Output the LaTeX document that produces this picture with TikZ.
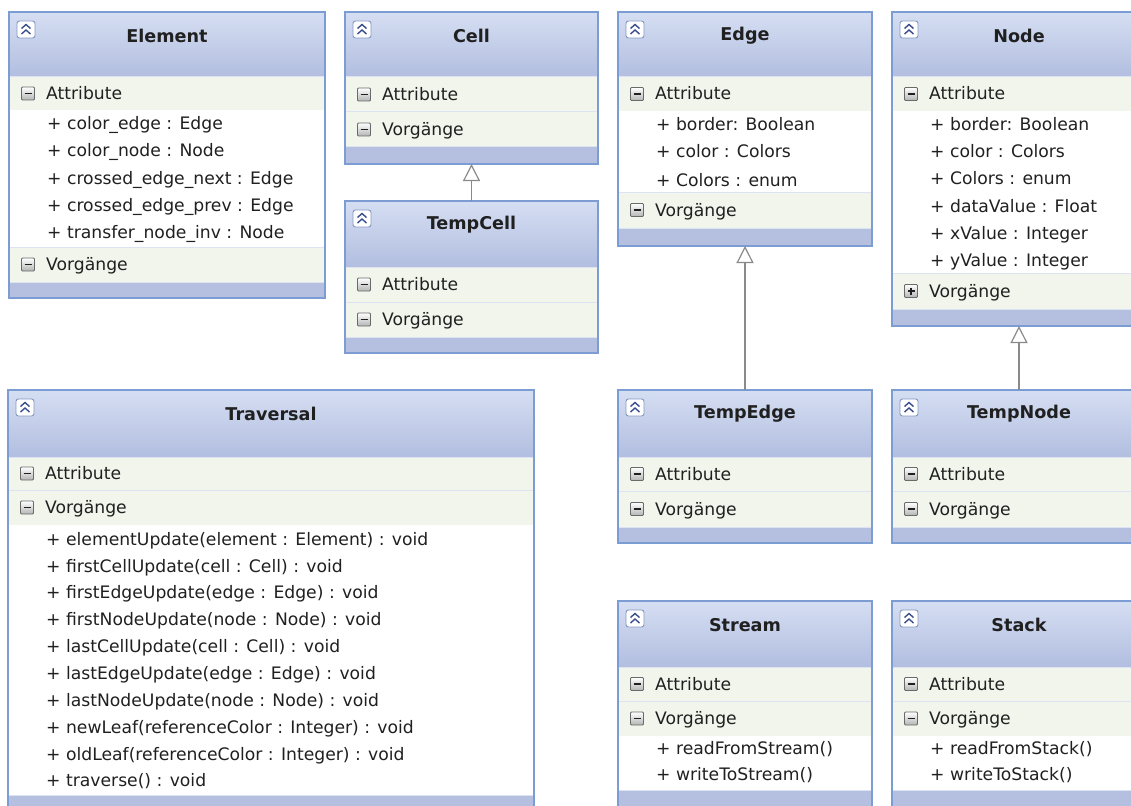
\documentclass[tikz,border=0pt]{standalone}
\usepackage{fontspec}
\setmainfont{DejaVu Sans}
\usetikzlibrary{arrows.meta}
\definecolor{bordc}{HTML}{7C9CD4}
\definecolor{hdtop}{HTML}{D5DEF2}
\definecolor{hdbot}{HTML}{B2BEE0}
\definecolor{bandc}{HTML}{F2F5EC}
\definecolor{sepc}{HTML}{DCE3F2}
\definecolor{footc}{HTML}{B5C0E0}
\definecolor{txt}{HTML}{202020}
\definecolor{arrc}{HTML}{8A8A8A}
\definecolor{icob}{HTML}{8497C2}
\definecolor{icoc}{HTML}{3B4F8E}
\definecolor{mbord}{HTML}{6A6A6A}
\definecolor{mgray}{HTML}{B4B4B4}
\definecolor{mline}{HTML}{202020}
\newcount\lblc
\newcommand\nextlbl{\global\advance\lblc by 1 }
\newcommand\chdr[6]{% x1 x2 ytop yhb title name
  \shade[top color=hdtop,bottom color=hdbot] (#1,#3) rectangle (#2,#4);
  \node[ttl] (#6-title) at ({(#1+#2)/2},{#3+24}) {#5};
  \draw[draw=icob,fill=white,rounded corners=2.5pt,line width=0.9pt] ({#1+8},{#3+9}) rectangle ({#1+26},{#3+26});
  \draw[icoc,line width=1.4pt] ({#1+12.5},{#3+16.5}) -- ({#1+17},{#3+12.5}) -- ({#1+21.5},{#3+16.5});
  \draw[icoc,line width=1.4pt] ({#1+12.5},{#3+22}) -- ({#1+17},{#3+18}) -- ({#1+21.5},{#3+22});
}
\newcommand\cbandbase[5]{% x1 x2 ytop ybot label
  \fill[bandc] (#1,#3) rectangle (#2,#4);
  \draw[sepc,line width=1pt] (#1,#3) -- (#2,#3);
  \draw[draw=mbord,top color=white,bottom color=mgray,line width=0.8pt,rounded corners=1pt] ({#1+12.5},{(#3+#4)/2-6.5}) rectangle ({#1+25.5},{(#3+#4)/2+6.5});
  \draw[mline,line width=1.5pt] ({#1+15.5},{(#3+#4)/2}) -- ({#1+22.5},{(#3+#4)/2});
  \nextlbl
  \node[lbl] (lbl\the\lblc) at ({#1+37},{(#3+#4)/2+6}) {#5};
}
\newcommand\cband[5]{\cbandbase{#1}{#2}{#3}{#4}{#5}}
\newcommand\cbandp[5]{\cbandbase{#1}{#2}{#3}{#4}{#5}%
  \draw[mline,line width=1.5pt] ({#1+19},{(#3+#4)/2-3.5}) -- ({#1+19},{(#3+#4)/2+3.5});}
\newcommand\itm[3]{\nextlbl\node[lbl] (lbl\the\lblc) at ({#1+38},{#2+6}) {#3};}
\newcommand\foot[4]{\fill[footc] (#1,#3) rectangle (#2,#4);\draw[sepc,line width=1pt] (#1,#3) -- (#2,#3);}
\begin{document}
\begin{tikzpicture}[x=1pt,y=-1pt,
  frame/.style={draw=bordc,line width=1.8pt,inner sep=0pt,outer sep=0pt,anchor=north west},
  ttl/.style={font=\fontsize{17.6}{20}\selectfont\bfseries,text=txt,inner sep=0pt},
  lbl/.style={font=\fontsize{17.2}{20}\selectfont,text=txt,inner sep=0pt,anchor=base west},
  gen/.style={draw=arrc,line width=1.2pt,-{Triangle[open,length=17pt,width=17pt,fill=white]}},
]
\useasboundingbox (0,0) rectangle (1131,805);
\clip (0,0) rectangle (1131,805);
% Element
\fill[white] (9,12) rectangle (325,298);
\chdr{9}{325}{12}{77}{Element}{element}
\cband{9}{325}{77}{110}{Attribute}
\itm{9}{124}{+ color\_edge : Edge}
\itm{9}{151}{+ color\_node : Node}
\itm{9}{178}{+ crossed\_edge\_next : Edge}
\itm{9}{205}{+ crossed\_edge\_prev : Edge}
\itm{9}{232}{+ transfer\_node\_inv : Node}
\cband{9}{325}{247}{282}{Vorgänge}
\foot{9}{325}{282}{298}
\node[frame,minimum width=316pt,minimum height=286pt] (element) at (9,12) {};
% Cell
\fill[white] (345,12) rectangle (598,164);
\chdr{345}{598}{12}{77}{Cell}{cell}
\cband{345}{598}{77}{112}{Attribute}
\cband{345}{598}{112}{147}{Vorgänge}
\foot{345}{598}{147}{164}
\node[frame,minimum width=253pt,minimum height=152pt] (cell) at (345,12) {};
% TempCell
\fill[white] (345,201) rectangle (598,353);
\chdr{345}{598}{201}{267}{TempCell}{tempcell}
\cband{345}{598}{267}{302}{Attribute}
\cband{345}{598}{302}{337}{Vorgänge}
\foot{345}{598}{337}{353}
\node[frame,minimum width=253pt,minimum height=152pt] (tempcell) at (345,201) {};
% Edge
\fill[white] (618,12) rectangle (872,246);
\chdr{618}{872}{12}{77}{Edge}{edge}
\cband{618}{872}{77}{111}{Attribute}
\itm{618}{125}{+ border: Boolean}
\itm{618}{152}{+ color : Colors}
\itm{618}{180}{+ Colors : enum}
\cband{618}{872}{192}{228}{Vorgänge}
\foot{618}{872}{228}{246}
\node[frame,minimum width=254pt,minimum height=234pt] (edge) at (618,12) {};
% Node
\fill[white] (892,12) rectangle (1146,326);
\chdr{892}{1146}{12}{77}{Node}{node}
\cband{892}{1146}{77}{111}{Attribute}
\itm{892}{125}{+ border: Boolean}
\itm{892}{152}{+ color : Colors}
\itm{892}{179}{+ Colors : enum}
\itm{892}{206}{+ dataValue : Float}
\itm{892}{233}{+ xValue : Integer}
\itm{892}{260}{+ yValue : Integer}
\cbandp{892}{1146}{273}{309}{Vorgänge}
\foot{892}{1146}{309}{326}
\node[frame,minimum width=254pt,minimum height=314pt] (node) at (892,12) {};
% TempEdge
\fill[white] (618,390) rectangle (872,543);
\chdr{618}{872}{390}{457}{TempEdge}{tempedge}
\cband{618}{872}{457}{491}{Attribute}
\cband{618}{872}{491}{527}{Vorgänge}
\foot{618}{872}{527}{543}
\node[frame,minimum width=254pt,minimum height=153pt] (tempedge) at (618,390) {};
% TempNode
\fill[white] (892,390) rectangle (1146,543);
\chdr{892}{1146}{390}{457}{TempNode}{tempnode}
\cband{892}{1146}{457}{491}{Attribute}
\cband{892}{1146}{491}{527}{Vorgänge}
\foot{892}{1146}{527}{543}
\node[frame,minimum width=254pt,minimum height=153pt] (tempnode) at (892,390) {};
% Stream
\fill[white] (618,601) rectangle (872,820);
\chdr{618}{872}{601}{667}{Stream}{stream}
\cband{618}{872}{667}{701}{Attribute}
\cband{618}{872}{701}{736}{Vorgänge}
\itm{618}{748}{+ readFromStream()}
\itm{618}{774}{+ writeToStream()}
\foot{618}{872}{790}{820}
\node[frame,minimum width=254pt,minimum height=219pt] (stream) at (618,601) {};
% Stack
\fill[white] (892,601) rectangle (1146,820);
\chdr{892}{1146}{601}{667}{Stack}{stack}
\cband{892}{1146}{667}{701}{Attribute}
\cband{892}{1146}{701}{736}{Vorgänge}
\itm{892}{748}{+ readFromStack()}
\itm{892}{774}{+ writeToStack()}
\foot{892}{1146}{790}{820}
\node[frame,minimum width=254pt,minimum height=219pt] (stack) at (892,601) {};
% Traversal
\fill[white] (8,390) rectangle (534,820);
\chdr{8}{534}{390}{457}{Traversal}{traversal}
\cband{8}{534}{457}{490}{Attribute}
\cband{8}{534}{490}{525}{Vorgänge}
\itm{8}{539}{+ elementUpdate(element : Element) : void}
\itm{8}{566}{+ firstCellUpdate(cell : Cell) : void}
\itm{8}{592}{+ firstEdgeUpdate(edge : Edge) : void}
\itm{8}{619}{+ firstNodeUpdate(node : Node) : void}
\itm{8}{646}{+ lastCellUpdate(cell : Cell) : void}
\itm{8}{673}{+ lastEdgeUpdate(edge : Edge) : void}
\itm{8}{700}{+ lastNodeUpdate(node : Node) : void}
\itm{8}{727}{+ newLeaf(referenceColor : Integer) : void}
\itm{8}{754}{+ oldLeaf(referenceColor : Integer) : void}
\itm{8}{780}{+ traverse() : void}
\foot{8}{534}{795}{820}
\node[frame,minimum width=526pt,minimum height=430pt] (traversal) at (8,390) {};
% generalizations
\draw[gen] (tempcell.north) -- (cell.south);
\draw[gen] (tempedge.north) -- (edge.south);
\draw[gen] (tempnode.north) -- (node.south);
\end{tikzpicture}
\end{document}
